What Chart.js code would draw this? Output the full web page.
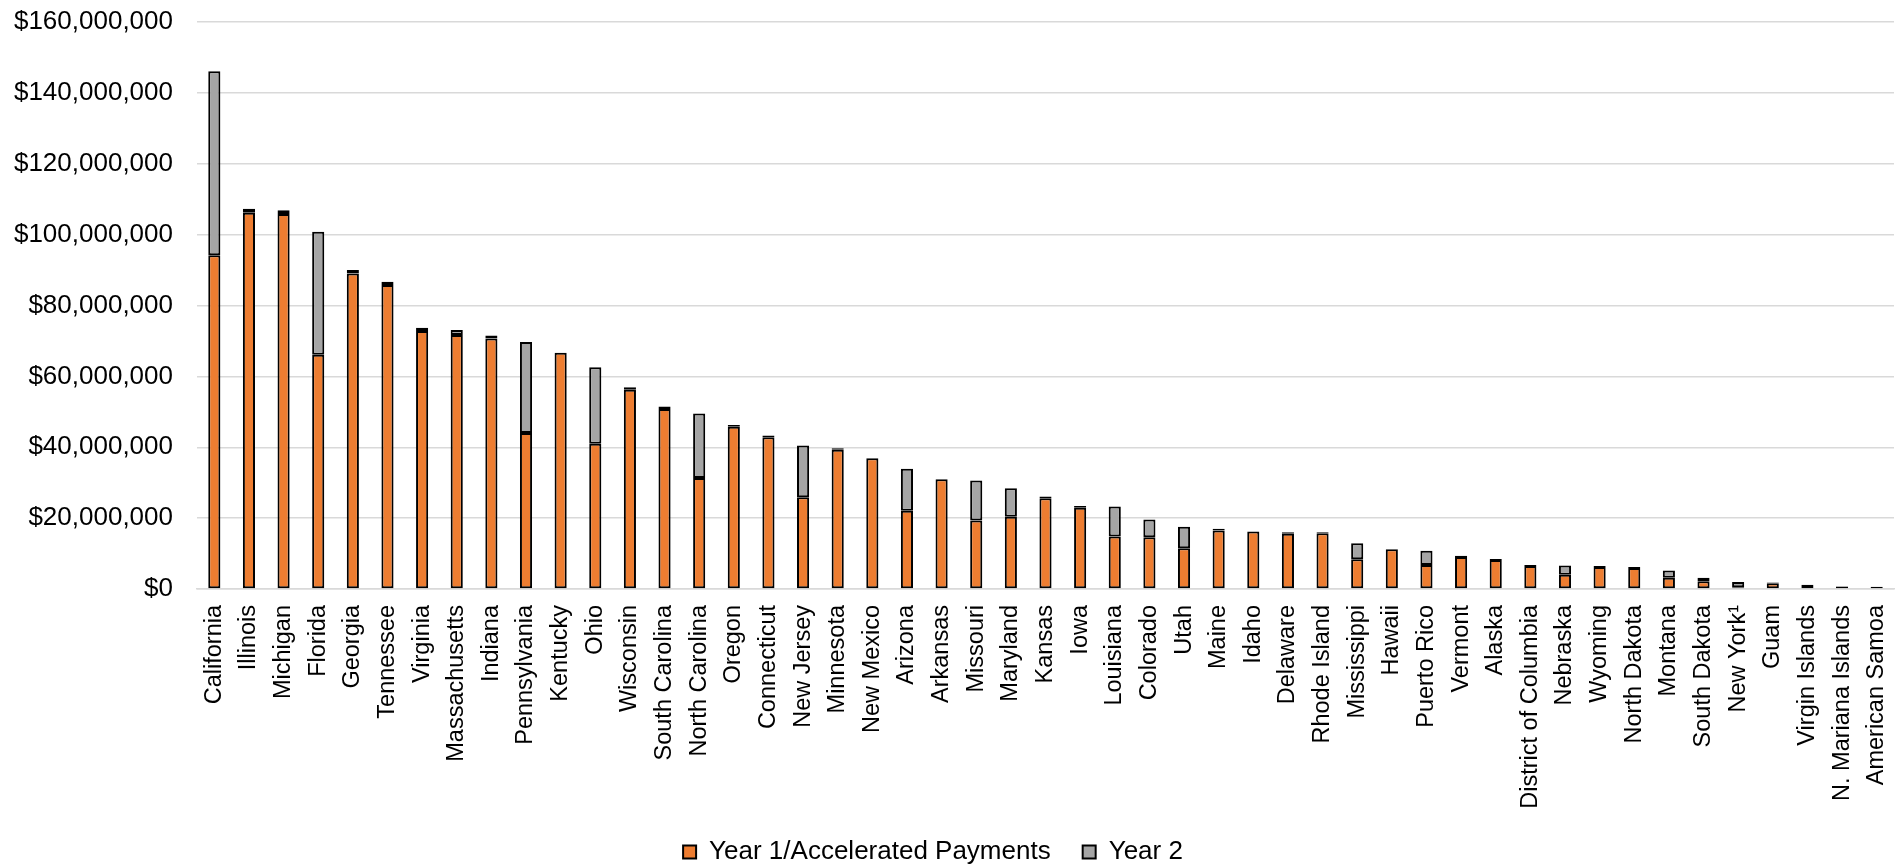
<!DOCTYPE html>
<html>
<head>
<meta charset="utf-8">
<script src="https://cdn.jsdelivr.net/npm/chart.js@4"></script>
<style>
  html, body { margin: 0; padding: 0; background: #fff; }
  #wrap { width: 1900px; height: 866px; position: relative; }
</style>
</head>
<body>
<div id="wrap"><canvas id="myChart"></canvas></div>
<script>
const states = [
  'California', 'Illinois', 'Michigan', 'Florida', 'Georgia', 'Tennessee',
  'Virginia', 'Massachusetts', 'Indiana', 'Pennsylvania', 'Kentucky', 'Ohio',
  'Wisconsin', 'South Carolina', 'North Carolina', 'Oregon', 'Connecticut',
  'New Jersey', 'Minnesota', 'New Mexico', 'Arizona', 'Arkansas', 'Missouri',
  'Maryland', 'Kansas', 'Iowa', 'Louisiana', 'Colorado', 'Utah', 'Maine',
  'Idaho', 'Delaware', 'Rhode Island', 'Mississippi', 'Hawaii', 'Puerto Rico',
  'Vermont', 'Alaska', 'District of Columbia', 'Nebraska', 'Wyoming',
  'North Dakota', 'Montana', 'South Dakota', 'New York\u00B9', 'Guam',
  'Virgin Islands', 'N. Mariana Islands', 'American Samoa',
];

// values in millions of dollars
const year1 = [
  94.2, 106.2, 105.8, 66.1, 89.0, 85.8,
  72.8, 71.7, 70.7, 44.0, 66.7, 41.0,
  56.2, 50.8, 31.3, 45.8, 42.8,
  25.9, 39.3, 36.9, 22.1, 31.0, 19.3,
  20.4, 25.6, 22.9, 14.8, 14.6, 11.5, 16.5,
  16.2, 15.6, 15.7, 8.4, 11.2, 6.8,
  9.0, 8.2, 6.5, 4.0, 6.2,
  5.9, 3.2, 2.2, 0.5, 1.6,
  1.1, 0.7, 0.6,
];
const year2 = [
  51.9, 1.1, 1.1, 34.7, 1.0, 0.9,
  0.9, 1.4, 0.8, 25.7, 0, 21.6,
  0.7, 0.7, 18.2, 0.5, 0.5,
  14.6, 0.4, 0, 11.8, 0, 11.3,
  8.0, 0.5, 0.5, 8.5, 5.0, 6.1, 0.5,
  0, 0.4, 0.3, 4.5, 0, 4.0,
  0.4, 0.3, 0.3, 2.6, 0.3,
  0.3, 2.0, 1.0, 1.5, 0.2,
  0.1, 0.05, 0.05,
];

const seriesNames = ['Year 1/Accelerated Payments', 'Year 2'];
const yTicks = [0, 20e6, 40e6, 60e6, 80e6, 100e6, 120e6, 140e6, 160e6];

Chart.defaults.font.family = '"Liberation Sans", Arial, sans-serif';
Chart.defaults.color = '#000';

/* legend: keep it short for the layout, then move it where the reference has it */
const legendShift = {
  id: 'legendShift',
  afterInit(chart) {
    const legend = chart.legend;
    const fit = legend.fit;
    legend.fit = function () {
      fit.call(this);
      this.height = 44;
    };
  },
  afterLayout(chart) {
    const lg = chart.legend;
    const pad = lg.options.labels.padding;
    lg.top = 852 - 13 - pad;
    lg.bottom = chart.height;
    lg.height = lg.bottom - lg.top;
    lg.left -= 14;
    lg.right -= 14;
  },
};

const ctx = document.getElementById('myChart');

new Chart(ctx, {
  type: 'bar',
  data: {
    labels: states,
    datasets: [
      {
        label: seriesNames[0],
        data: year1.map((v) => v * 1e6),
        backgroundColor: '#ED7D31',
        borderColor: '#000',
        borderWidth: 2,
        borderSkipped: false,
        barPercentage: 0.35,
        categoryPercentage: 1,
      },
      {
        label: seriesNames[1],
        data: year2.map((v) => v * 1e6),
        backgroundColor: '#A5A5A5',
        borderColor: '#000',
        borderWidth: 2,
        borderSkipped: false,
        barPercentage: 0.35,
        categoryPercentage: 1,
      },
    ],
  },
  options: {
    responsive: true,
    maintainAspectRatio: false,
    animation: false,
    devicePixelRatio: 1,
    layout: { padding: { top: 22, right: 6, left: 0, bottom: 0 } },
    plugins: {
      tooltip: { enabled: false },
      legend: {
        position: 'bottom',
        labels: {
          boxWidth: 13,
          boxHeight: 13,
          padding: 32,
          font: { size: 26 },
          color: '#000',
        },
      },
    },
    scales: {
      x: {
        stacked: true,
        grid: { display: false, drawTicks: false },
        border: { display: true, color: '#d9d9d9', width: 1.5 },
        ticks: {
          autoSkip: false,
          minRotation: 90,
          maxRotation: 90,
          padding: 16,
          font: { size: 23.5 },
        },
        afterFit(axis) {
          axis.height = 233;
          axis.paddingLeft = 0;
          axis.paddingRight = 0;
        },
      },
      y: {
        stacked: true,
        min: 0,
        max: 160e6,
        afterBuildTicks(axis) {
          axis.ticks = yTicks.map((v) => ({ value: v }));
        },
        grid: { color: '#d9d9d9', lineWidth: 1.5, drawTicks: false },
        border: { display: false },
        ticks: {
          padding: 24,
          font: { size: 26 },
          callback: (value) => '$' + value.toLocaleString('en-US'),
        },
        afterFit(axis) {
          axis.width = 197;
          axis.paddingTop = 0;
          axis.paddingBottom = 0;
        },
      },
    },
  },
  plugins: [legendShift],
});
</script>
</body>
</html>
